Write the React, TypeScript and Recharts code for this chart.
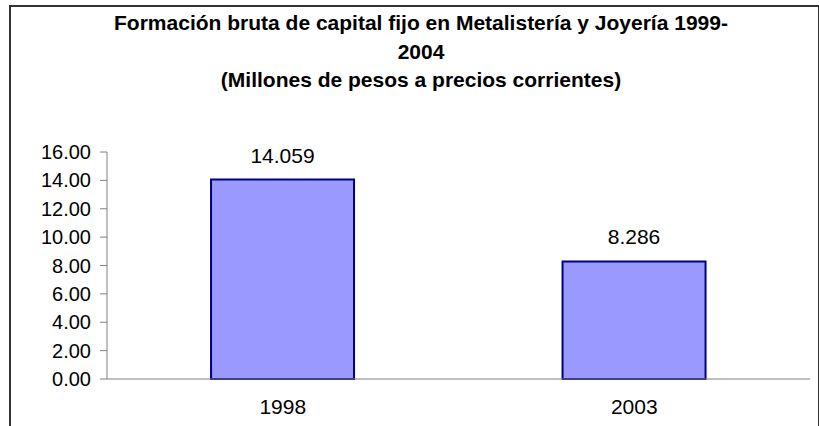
import { BarChart, Bar, XAxis, YAxis, LabelList } from 'recharts'

// Formación bruta de capital fijo, millones de pesos
const years = ['1998', '2003']
const values = [14.059, 8.286]
const yTicks = [0, 2, 4, 6, 8, 10, 12, 14, 16]
const titleLines = [
  'Formación bruta de capital fijo en Metalistería y Joyería 1999-',
  '2004',
  '(Millones de pesos a precios corrientes)',
]

const data = years.map((year, i) => ({ year, value: values[i], pos: i + 0.5 }))

const font = '"Liberation Sans", Arial, sans-serif'
const axisColor = '#808080'

if (typeof document !== 'undefined') document.body.style.margin = '0'

export default function App() {
  return (
    <div style={{ position: 'relative', width: 819, height: 426, overflow: 'hidden', background: '#fff' }}>
      <div
        style={{
          position: 'absolute',
          left: 9,
          top: 5,
          width: 807,
          height: 440,
          borderLeft: '2px solid #333',
          borderTop: '2px solid #333',
          borderRight: '2px solid #333',
        }}
      />
      <div
        style={{
          position: 'absolute',
          left: 21,
          width: 800,
          top: 9,
          textAlign: 'center',
          fontFamily: font,
          fontWeight: 'bold',
          fontSize: 21,
          lineHeight: '28.5px',
          color: '#000',
        }}
      >
        {titleLines.map((t) => (
          <div key={t}>{t}</div>
        ))}
      </div>
      <BarChart
        width={819}
        height={426}
        data={data}
        margin={{ top: 152, right: 9, bottom: 0, left: 0 }}
        barCategoryGap="29.6%"
        style={{ position: 'absolute', left: 0, top: 0 }}
      >
        <XAxis
          xAxisId="ticks"
          type="number"
          dataKey="pos"
          domain={[0, 2]}
          ticks={[0, 1, 2]}
          tick={false}
          tickSize={7}
          height={0}
          axisLine={false}
          tickLine={{ stroke: axisColor }}
        />
        <XAxis
          dataKey="year"
          height={47}
          tickSize={0}
          tickMargin={20}
          axisLine={{ stroke: axisColor }}
          tickLine={false}
          tick={{ fill: '#000', fontSize: 21, fontFamily: font }}
        />
        <YAxis
          domain={[0, 16]}
          ticks={yTicks}
          width={107}
          tickSize={7}
          tickMargin={9}
          tickFormatter={(v: number) => v.toFixed(2)}
          axisLine={{ stroke: axisColor }}
          tickLine={{ stroke: axisColor }}
          tick={{ fill: '#000', fontSize: 20, fontFamily: font }}
        />
        <Bar dataKey="value" fill="#9999FF" stroke="#000080" strokeWidth={2} isAnimationActive={false}>
          <LabelList
            dataKey="value"
            position="top"
            offset={17}
            formatter={(v: number) => v.toFixed(3)}
            style={{ fill: '#000', fontSize: 21, fontFamily: font }}
          />
        </Bar>
      </BarChart>
    </div>
  )
}
